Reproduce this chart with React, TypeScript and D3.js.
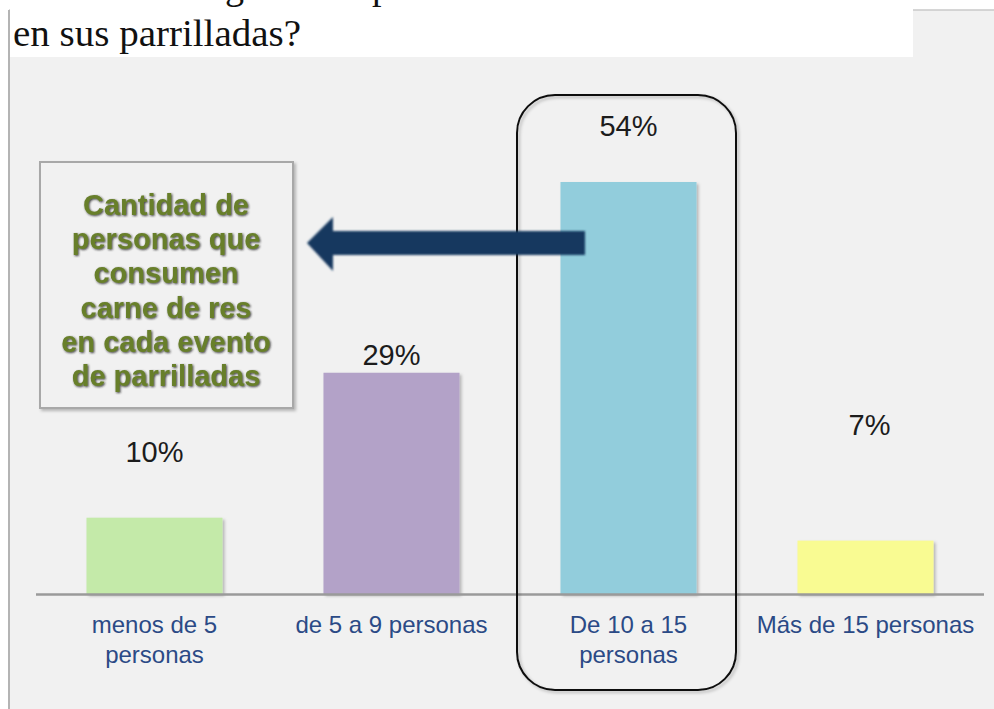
import React, { useEffect, useRef } from 'react';
import * as d3 from 'd3';

// chart data
const categories = [['menos de 5', 'personas'], ['de 5 a 9 personas'], ['De 10 a 15', 'personas'], ['Más de 15 personas']];
const values = [10, 29, 54, 7];
const valueLabels = ['10%', '29%', '54%', '7%'];
// where each % label sits, in value units (Excel placed them unevenly)
const labelLevels = [17.3, 30, 60, 20.8];
const barColors = ['#c4eaa9', '#b3a2c8', '#92cddc', '#f9fb92'];
const noteLines = ['Cantidad de', 'personas que', 'consumen', 'carne de res', 'en cada evento', 'de parrilladas'];
const titleLine = 'en sus parrilladas?';

const W = 994;
const H = 709;

export default function App() {
  const ref = useRef<SVGSVGElement | null>(null);

  useEffect(() => {
    const svg = d3.select(ref.current);
    svg.selectAll('*').remove();

    const defs = svg.append('defs');
    const sh = defs.append('filter').attr('id', 'sh').attr('x', '-10%').attr('y', '-10%').attr('width', '130%').attr('height', '130%');
    sh.append('feDropShadow').attr('dx', 2).attr('dy', 2).attr('stdDeviation', 1.5)
      .attr('flood-color', '#000').attr('flood-opacity', 0.25);
    const glow = defs.append('filter').attr('id', 'glow').attr('x', '-10%').attr('y', '-20%').attr('width', '120%').attr('height', '140%');
    glow.append('feDropShadow').attr('dx', 1).attr('dy', 1).attr('stdDeviation', 1)
      .attr('flood-color', '#1a1a1a').attr('flood-opacity', 0.85);
    const soft = defs.append('filter').attr('id', 'soft').attr('x', '-10%').attr('y', '-30%').attr('width', '120%').attr('height', '160%');
    soft.append('feGaussianBlur').attr('stdDeviation', 0.8);

    // background pieces
    svg.append('rect').attr('width', W).attr('height', H).attr('fill', '#fff');
    svg.append('rect').attr('x', 9).attr('y', 10).attr('width', W - 9).attr('height', H - 10).attr('fill', '#f1f1f1');
    svg.append('line').attr('x1', 9).attr('x2', W).attr('y1', 10).attr('y2', 10).attr('stroke', '#c8c8c8').attr('stroke-width', 1.5);
    svg.append('line').attr('x1', 9).attr('x2', 9).attr('y1', 10).attr('y2', H).attr('stroke', '#b4b4b4').attr('stroke-width', 2);
    svg.append('rect').attr('x', 10).attr('y', 0).attr('width', 903).attr('height', 57).attr('fill', '#fff');

    // cut-off first title line: only descenders show, as in the source
    const serif = '"Liberation Serif", "DejaVu Serif", serif';
    svg.append('text').attr('x', 225).attr('y', -1).text('g')
      .style('font-family', serif).style('font-size', '38px').attr('fill', '#111');
    svg.append('text').attr('x', 372).attr('y', -1).text('p')
      .style('font-family', serif).style('font-size', '38px').attr('fill', '#111');
    svg.append('text').attr('x', 13).attr('y', 46).text(titleLine)
      .attr('textLength', 288).attr('lengthAdjust', 'spacingAndGlyphs')
      .style('font-family', serif).style('font-size', '38px').attr('fill', '#111');

    // scales
    const x = d3.scaleBand<number>().domain(d3.range(values.length)).range([36, 984])
      .paddingInner(0.426).paddingOuter(0.213);
    const y = d3.scaleLinear().domain([0, 54]).range([594, 182]);

    // bars
    svg.selectAll('rect.bar').data(values).enter().append('rect')
      .attr('class', 'bar')
      .attr('x', (d, i) => x(i) as number)
      .attr('y', d => y(d))
      .attr('width', x.bandwidth())
      .attr('height', d => y(0) - y(d))
      .attr('fill', (d, i) => barColors[i])
      .attr('filter', 'url(#sh)');

    // axis line
    svg.append('line').attr('x1', 36).attr('x2', 984).attr('y1', y(0) + 0.5).attr('y2', y(0) + 0.5)
      .attr('stroke', '#9a9a9a').attr('stroke-width', 2.5);

    const sans = '"Liberation Sans", Arial, sans-serif';

    // value labels
    svg.selectAll('text.val').data(valueLabels).enter().append('text')
      .attr('class', 'val')
      .attr('x', (d, i) => (x(i) as number) + x.bandwidth() / 2 + (i === 3 ? 4 : 0))
      .attr('y', (d, i) => y(labelLevels[i]))
      .attr('text-anchor', 'middle')
      .style('font-family', sans).style('font-size', '29px')
      .attr('fill', '#1c1c1c')
      .text(d => d);

    // category labels
    const cat = svg.selectAll('text.cat').data(categories).enter().append('text')
      .attr('class', 'cat')
      .attr('text-anchor', 'middle')
      .style('font-family', sans).style('font-size', '24px')
      .attr('fill', '#2b4a86');
    cat.selectAll('tspan').data((d, i) => d.map(s => ({ s, i }))).enter().append('tspan')
      .attr('x', d => (x(d.i) as number) + x.bandwidth() / 2)
      .attr('y', (d, j) => 633 + j * 30)
      .text(d => d.s);

    // rounded highlight around the biggest bar
    svg.append('rect').attr('x', 517).attr('y', 95).attr('width', 219).attr('height', 595)
      .attr('rx', 38).attr('ry', 38)
      .attr('fill', 'none').attr('stroke', '#111').attr('stroke-width', 2)
      .attr('filter', 'url(#sh)');

    // arrow pointing to the note
    const ay = 243;
    const arrow = d3.path();
    arrow.moveTo(307, ay);
    arrow.lineTo(333, 217);
    arrow.lineTo(333, 231);
    arrow.lineTo(585, 231);
    arrow.lineTo(585, 255);
    arrow.lineTo(333, 255);
    arrow.lineTo(333, 271);
    arrow.closePath();
    svg.append('path').attr('d', arrow.toString()).attr('fill', '#17375e').attr('filter', 'url(#soft)');

    // note box
    svg.append('rect').attr('x', 40).attr('y', 162).attr('width', 253).attr('height', 246)
      .attr('fill', '#f1f1f1').attr('stroke', '#a8a8a8').attr('stroke-width', 2)
      .attr('filter', 'url(#sh)');
    svg.append('g').selectAll('text').data(noteLines).enter().append('text')
      .attr('x', 166)
      .attr('y', (d, i) => 215 + i * 34.2)
      .attr('text-anchor', 'middle')
      .style('font-family', sans).style('font-size', '29px').style('font-weight', 'bold')
      .attr('fill', '#687f2c')
      .attr('filter', 'url(#glow)')
      .text(d => d);
  }, []);

  return (
    <svg ref={ref} width={W} height={H} style={{ position: 'absolute', left: 0, top: 0 }} />
  );
}
